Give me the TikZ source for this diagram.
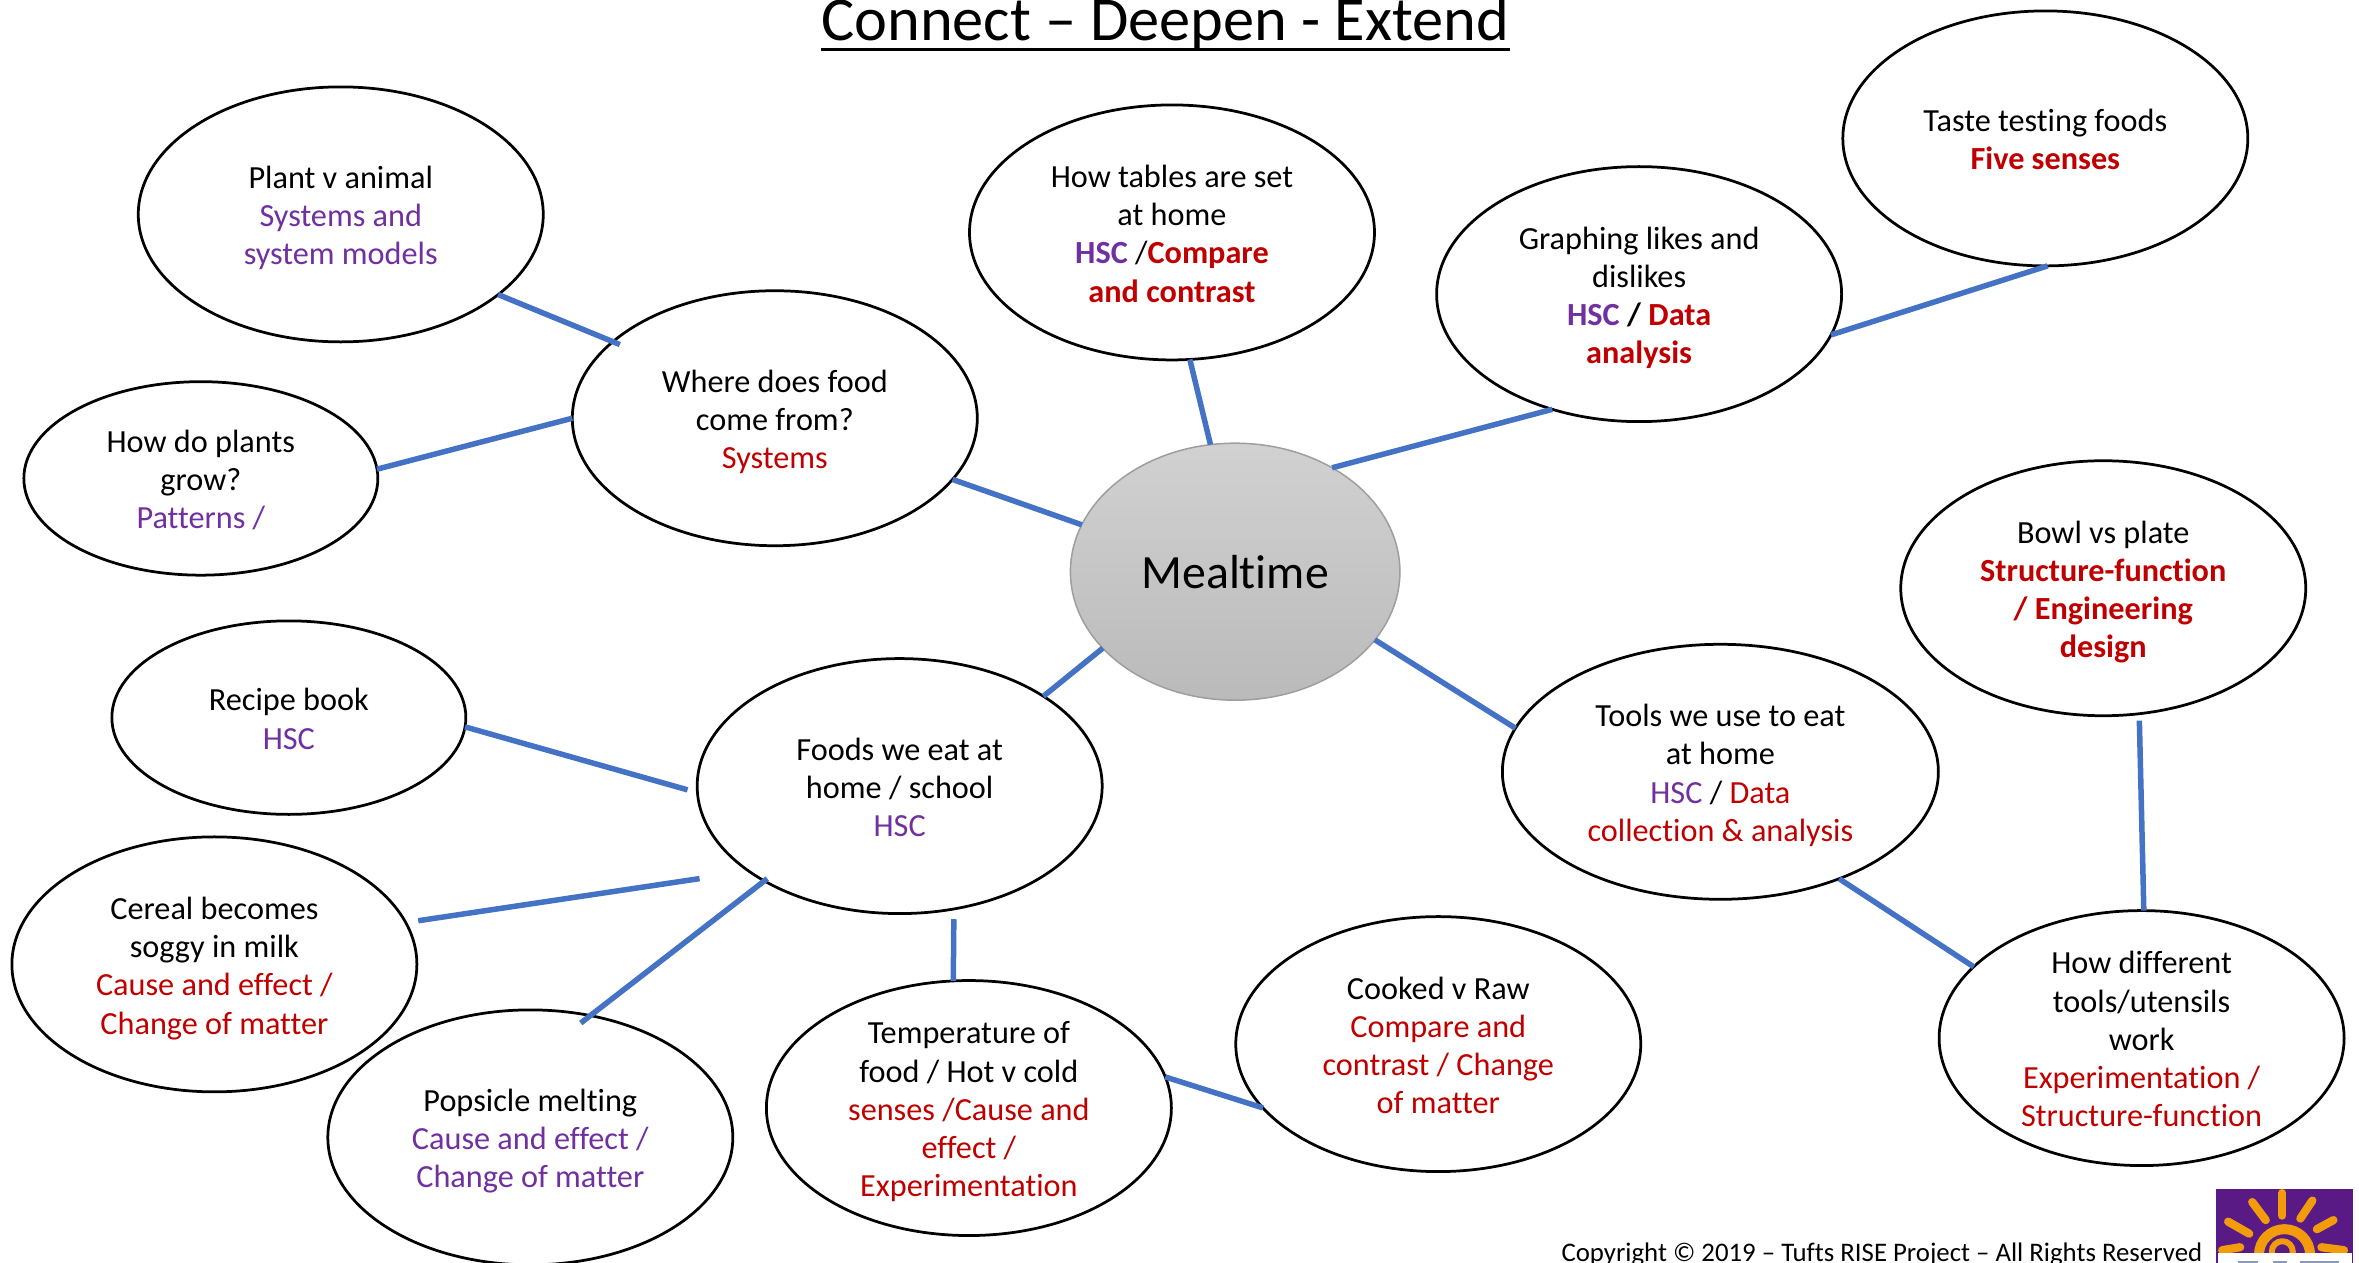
\documentclass[tikz,border=0pt]{standalone}
\usepackage{fontspec}
\setmainfont[Ligatures=NoCommon]{Carlito}
\usetikzlibrary{shapes.geometric}
\definecolor{hscviolet}{HTML}{7030A0}
\definecolor{causered}{HTML}{C00000}
\definecolor{linkblue}{HTML}{4472C4}
\definecolor{logoviolet}{HTML}{5A1A86}
\definecolor{logosun}{HTML}{F39C0B}
\definecolor{logoblue}{HTML}{8C9ABA}
\newcommand{\hsc}[1]{\textcolor{hscviolet}{#1}}
\newcommand{\cause}[1]{\textcolor{causered}{#1}}
\newcommand{\hscb}[1]{\textcolor{hscviolet}{\bfseries #1}}
\newcommand{\causeb}[1]{\textcolor{causered}{\bfseries #1}}
\newcommand{\toprow}{\rule{0pt}{18pt}}
\begin{document}
\begin{tikzpicture}[x=0.03009cm, y=-0.03009cm, line join=round, line cap=butt,
	bubble/.style={draw=black, line width=0.55mm, ellipse, inner xsep=0pt, inner ysep=-10pt, outer sep=0pt, align=center, minimum width=8.1cm, minimum height=5.1cm, fill=white, font=\fontsize{18.35}{21.75}\selectfont, execute at end node={\rule[-4pt]{0pt}{4pt}}},
	smallbubble/.style={bubble, minimum width=7.08cm, minimum height=3.87cm},
	link/.style={draw=linkblue, line width=1.1mm}]
	\useasboundingbox (0,0) rectangle (1568,839.5);
	\begin{scope}
		\clip (0,0) rectangle (1568,839.5);
		\node[anchor=base, inner sep=0pt, font=\fontsize{35.5}{40}\selectfont] (title) at (774.5,27) {Connect – Deepen - Extend};
		\draw[line width=0.57mm] ([yshift=-0.17cm]title.base west) -- ([yshift=-0.17cm]title.base east);
		% outer bubbles
		\node[bubble] (taste) at (1359.5,92) {\toprow Taste testing foods\\\causeb{Five senses}};
		\node[bubble] (plant) at (226.5,142.5) {\toprow Plant v animal\\\hsc{Systems and}\\\hsc{system models}};
		\node[bubble] (tables) at (779,154.5) {\toprow How tables are set\\at home\\\hscb{HSC} /\causeb{Compare}\\\causeb{and contrast}};
		\node[bubble] (graphing) at (1089.5,195.5) {\toprow Graphing likes and\\dislikes\\\hscb{HSC} \textbf{/} \causeb{Data}\\\causeb{analysis}};
		\node[bubble] (where) at (515,278) {\toprow Where does food\\come from?\\\cause{Systems}};
		\node[smallbubble] (plants) at (133.5,318) {\toprow How do plants\\grow?\\\hsc{Patterns /}};
		\node[bubble] (bowl) at (1398,391) {\toprow Bowl vs plate\\\causeb{Structure-function}\\\causeb{/ Engineering}\\\causeb{design}};
		\node[smallbubble] (recipe) at (192,477) {\toprow Recipe book\\\hsc{HSC}};
		\node[bubble] (foods) at (598,522.5) {\toprow Foods we eat at\\home / school\\\hsc{HSC}};
		\node[bubble, minimum width=8.72cm] (tools) at (1143.5,513) {\toprow Tools we use to eat\\at home\\\hsc{HSC} / \cause{Data}\\\cause{collection \& analysis}};
		\node[bubble] (cereal) at (142.5,641) {\toprow Cereal becomes\\soggy in milk\\\cause{Cause and effect /}\\\cause{Change of matter}};
		\node[bubble] (cooked) at (956,694) {\toprow Cooked v Raw\\\cause{Compare and}\\\cause{contrast / Change}\\\cause{of matter}};
		\node[bubble] (different) at (1423.5,690) {\toprow How different\\tools/utensils\\work\\\cause{Experimentation /}\\\cause{Structure-function}};
		\node[bubble] (temperature) at (644,736.5) {\toprow Temperature of\\food / Hot v cold\\\cause{senses /Cause and}\\\cause{effect /}\\\cause{Experimentation}};
		\node[bubble] (popsicle) at (352.5,756) {\toprow Popsicle melting\\\hsc{Cause and effect /}\\\hsc{Change of matter}};
		% centre
		\node[ellipse, draw=black!38, line width=0.3mm, top color=black!18, bottom color=black!27, inner sep=0pt, outer sep=0pt, minimum width=6.59cm, minimum height=5.14cm, font=\fontsize{27.2}{33}\selectfont] (mealtime) at (821,380) {Mealtime};
		% free ends of the links
		\coordinate (whereend) at (412,229);
		\coordinate (recipeend) at (457,525);
		\coordinate (cerealstart) at (278,612);
		\coordinate (cerealend) at (465,584);
		\coordinate (foodsstart) at (510,584);
		\coordinate (popsicleend) at (386,680);
		\coordinate (foodsend) at (634,611);
		\coordinate (bowlend) at (1422,479);
		% links
		\foreach \a/\b in {plant.-27/whereend, plants.3/where.west, where.-19/mealtime.163, tables.-82/mealtime.101, mealtime.47/graphing.-127, graphing.-12/taste.-89, mealtime.-26/tools.168, mealtime.-150/foods.32, recipe.-3/recipeend, cerealstart/cerealend, foodsstart/popsicleend, foodsend/temperature.97, temperature.9/cooked.-160, tools.-42/different.157, bowlend/different.89}
			\draw[link] (\a) -- (\b);
		% logo
		\fill[logoviolet] (1473,790.3) rectangle (1564,840);
		\draw[logosun, line width=1.65mm, line cap=round] (1517,793) -- (1517,808);
		\draw[logosun, line width=1.65mm, line cap=round] (1497,799) -- (1506,811);
		\draw[logosun, line width=1.65mm, line cap=round] (1537,798) -- (1529,810);
		\draw[logosun, line width=1.65mm, line cap=round] (1481,812) -- (1495,820);
		\draw[logosun, line width=1.65mm, line cap=round] (1551,811) -- (1540,817);
		\draw[logosun, line width=1.65mm, line cap=round] (1477,831) -- (1489,829);
		\draw[logosun, line width=1.65mm, line cap=round] (1543,829) -- (1558,831);
		\draw[logosun, line width=2mm] (1518.5,834) circle [radius=17];
		\draw[logosun, line width=1.2mm] (1517,832) circle [radius=7];
		\fill[white] (1474.5,833) rectangle (1563,840);
		\foreach \p/\q in {1487.5/1501, 1511/1520, 1529/1555}
			\fill[logoblue] (\p,838) rectangle (\q,840);
		\node[anchor=base east, inner sep=0pt, font=\fontsize{15.25}{18}\selectfont] (copyright) at (1464,838.6) {Copyright © 2019 – Tufts RISE Project – All Rights Reserved};
	\end{scope}
\end{tikzpicture}
\end{document}
